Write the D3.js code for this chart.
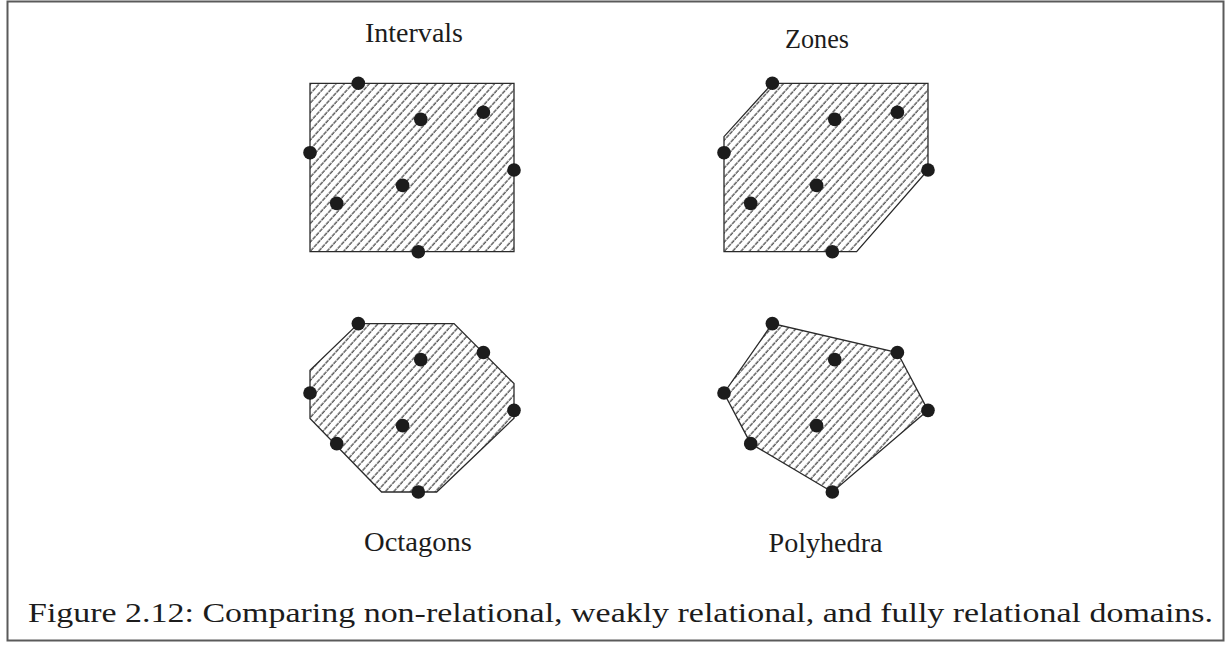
<!DOCTYPE html>
<html>
<head>
<meta charset="utf-8">
<script src="https://cdn.jsdelivr.net/npm/d3@7"></script>
<style>
  html, body { margin: 0; padding: 0; background: #fff; }
  svg { display: block; }
  text { font-family: "Liberation Serif", "Times New Roman", serif; }
</style>
</head>
<body>
<svg id="chart" width="1231" height="646"></svg>
<script>
// ---- data (abstract domain coordinates, 0..100 in each axis) ----
const panelNames = ["Intervals", "Zones", "Octagons", "Polyhedra"];
const pointX = [23.7, 54.3, 85.0, 0.0, 100.0, 45.4, 13.1, 53.1];
const pointY = [100.0, 78.6, 82.8, 58.8, 48.5, 39.4, 28.7, 0.0];
const zoneX = [23.7, 100.0, 100.0, 65.0, 0.0, 0.0];
const zoneY = [100.0, 100.0, 48.5, 0.0, 0.0, 68.3];
const octX = [23.7, 70.6, 100.0, 100.0, 62.1, 35.1, 0.0, 0.0];
const octY = [100.0, 100.0, 64.4, 43.8, 0.0, 0.0, 43.6, 72.3];
const captionText = "Figure 2.12: Comparing non-relational, weakly relational, and fully relational domains.";

const svg = d3.select("#chart");
const ink = "#1c1c1c";

// frame
svg.append("rect")
  .attr("x", 7.5).attr("y", 1.5).attr("width", 1216).attr("height", 639)
  .attr("fill", "none").attr("stroke", "#5a5a5a").attr("stroke-width", 2);

// hatch pattern
const defs = svg.append("defs");
const pat = defs.append("pattern")
  .attr("id", "hatch")
  .attr("patternUnits", "userSpaceOnUse")
  .attr("width", 6.2).attr("height", 10)
  .attr("patternTransform", "rotate(42)");
pat.append("line")
  .attr("x1", 1).attr("y1", 0).attr("x2", 1).attr("y2", 10)
  .attr("stroke", "#111").attr("stroke-width", 1.0)
  .attr("stroke-dasharray", "4.2,0.8");

const W = 204, H = 168.4;
const x = d3.scaleLinear().domain([0, 100]).range([0, W]);
const y = d3.scaleLinear().domain([0, 100]).range([H, 0]);

const origins = [[310, 83.3], [724, 83.3], [310, 323.6], [724, 323.6]];
const titlePos = [
  {cx: 414, base: 42, w: 98},
  {cx: 817, base: 47.5, w: 64},
  {cx: 418, base: 551, w: 108},
  {cx: 825.5, base: 552, w: 114}
];

const pts = pointX.map((v, i) => [v, pointY[i]]);
const [x0, x1] = d3.extent(pointX);
const [y0, y1] = d3.extent(pointY);
const intervalPoly = [[x0, y1], [x1, y1], [x1, y0], [x0, y0]];
const zonePoly = zoneX.map((v, i) => [v, zoneY[i]]);
const octPoly = octX.map((v, i) => [v, octY[i]]);
const hull = d3.polygonHull(pts);
const shapes = [intervalPoly, zonePoly, octPoly, hull];

const line = d3.line().x(d => x(d[0])).y(d => y(d[1])).curve(d3.curveLinearClosed);

panelNames.forEach((name, k) => {
  const g = svg.append("g").attr("transform", `translate(${origins[k][0]},${origins[k][1]})`);
  g.append("path")
    .attr("d", line(shapes[k]))
    .attr("fill", "url(#hatch)")
    .attr("stroke", "#2a2a2a").attr("stroke-width", 1.3)
    .attr("stroke-linejoin", "miter");
  g.selectAll("circle").data(pts).join("circle")
    .attr("cx", d => x(d[0])).attr("cy", d => y(d[1]))
    .attr("r", 6.8).attr("fill", ink);
  const t = titlePos[k];
  svg.append("text")
    .attr("x", t.cx).attr("y", t.base)
    .attr("text-anchor", "middle")
    .attr("font-size", 27)
    .attr("fill", ink)
    .attr("textLength", t.w).attr("lengthAdjust", "spacingAndGlyphs")
    .text(name);
});

svg.append("text")
  .attr("x", 28).attr("y", 622)
  .attr("font-size", 28)
  .attr("fill", ink)
  .attr("textLength", 1185).attr("lengthAdjust", "spacingAndGlyphs")
  .text(captionText);
</script>
</body>
</html>
